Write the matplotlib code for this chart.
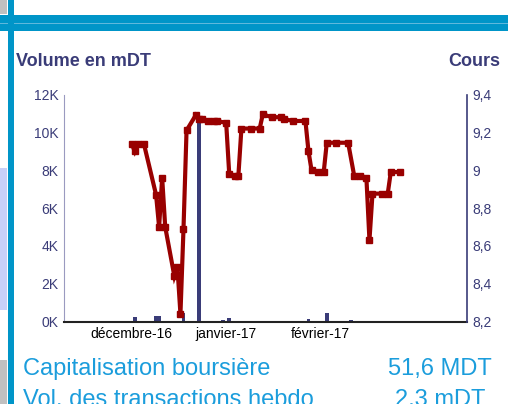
import matplotlib.pyplot as plt
from matplotlib.patches import Rectangle
from matplotlib.ticker import FuncFormatter

plt.rcParams["font.family"] = ["Liberation Sans", "DejaVu Sans"]

# jours comptés à partir du 1er décembre 2016
jours_cours = [0, 1, 2, 4, 8, 9, 10, 11, 14, 15, 16, 17, 18, 21, 22, 23, 25, 27, 28,
               31, 32, 34, 35, 36, 39, 42, 43, 46, 49, 50, 53, 57, 58, 59, 61, 63,
               64, 67, 71, 73, 75, 77, 78, 79, 82, 84, 85, 88]
cours = [9.14, 9.10, 9.14, 9.14, 8.87, 8.70, 8.96, 8.70, 8.44, 8.49, 8.24, 8.69, 9.21,
         9.29, 9.27, 9.27, 9.26, 9.26, 9.26, 9.25, 8.98, 8.97, 8.97, 9.22, 9.22, 9.22,
         9.295, 9.28, 9.28, 9.27, 9.26, 9.26, 9.10, 9.00, 8.99, 8.99, 9.145, 9.145,
         9.145, 8.97, 8.97, 8.96, 8.63, 8.876, 8.876, 8.876, 8.99, 8.99]

jours_volume = [1, 8, 9, 15, 17, 22, 25, 30, 32, 43, 45, 58, 64, 72, 78]
volume = [230, 300, 300, 50, 450, 10750, 30, 100, 180, 50, 40, 120, 450, 60, 40]

mois_pos = [0, 31, 62]
mois_labels = ["décembre-16", "janvier-17", "février-17"]

navy = "#3a3c78"
rouge = "#990000"
bleu = "#0095c8"
bleu_txt = "#1b9ddc"

fig = plt.figure(figsize=(5.08, 4.04), dpi=100)
W, H = 508, 404


def px_rect(x0, y0, x1, y1, color):
    fig.patches.append(Rectangle((x0 / W, 1 - y1 / H), (x1 - x0) / W, (y1 - y0) / H,
                                 transform=fig.transFigure, color=color, lw=0, zorder=0))


# cadre décoratif
px_rect(0, 15, W, 31, bleu)
px_rect(0, 22.5, W, 23.5, "#5fb8dc")
px_rect(8, 0, 14, H, bleu)
px_rect(0, 0, 7, 14, "#c0c0c0")
px_rect(0, 168, 7, 310, "#c8d0f8")
px_rect(0, 360, 7, H, "#c0c0c0")

ax = fig.add_axes([64 / W, 1 - 321.5 / H, (467 - 64) / W, (321.5 - 94.5) / H])
ax.bar(jours_volume, volume, width=1.2, color=navy, zorder=2)
ax.set_xlim(-22.2, 110)
ax.set_ylim(0, 12000)
ax.set_yticks(range(0, 12001, 2000))
ax.yaxis.set_major_formatter(FuncFormatter(lambda v, p: f"{v / 1000:.0f}K"))
ax.set_xticks(mois_pos)
ax.set_xticklabels(mois_labels, fontsize=10, color="black")
ax.tick_params(axis="x", length=0, pad=4)
ax.tick_params(axis="y", length=0, labelsize=10, labelcolor=navy, pad=4)
ax.spines["top"].set_visible(False)
ax.spines["right"].set_visible(False)
ax.spines["left"].set_color("#9a9ac0")
ax.spines["bottom"].set_color("#222222")
ax.spines["bottom"].set_linewidth(1.5)
ax.patch.set_alpha(0)

ax2 = ax.twinx()
ax2.plot(jours_cours, cours, color=rouge, lw=3, marker="s", markersize=5,
         solid_joinstyle="miter")
ax2.set_ylim(8.2, 9.4)
ax2.set_yticks([8.2, 8.4, 8.6, 8.8, 9.0, 9.2, 9.4])
ax2.yaxis.set_major_formatter(
    FuncFormatter(lambda v, p: f"{v:.1f}".rstrip("0").rstrip(".").replace(".", ",")))
ax2.tick_params(axis="y", length=0, labelsize=10, labelcolor=navy, pad=4)
for s in ["top", "left", "bottom"]:
    ax2.spines[s].set_visible(False)
ax2.spines["right"].set_color(navy)
ax2.spines["right"].set_linewidth(1.2)

fig.text(16 / W, 1 - 61 / H, "Volume en mDT", fontsize=13, fontweight="bold",
         color=navy, va="center", ha="left")
fig.text(500 / W, 1 - 61 / H, "Cours", fontsize=13, fontweight="bold",
         color=navy, va="center", ha="right")

fig.text(23 / W, 1 - 375 / H, "Capitalisation boursière", fontsize=17,
         color=bleu_txt, va="baseline", ha="left")
fig.text(491.5 / W, 1 - 375 / H, "51,6 MDT", fontsize=17,
         color=bleu_txt, va="baseline", ha="right")
fig.text(23 / W, 1 - 406 / H, "Vol. des transactions hebdo", fontsize=17,
         color=bleu_txt, va="baseline", ha="left")
fig.text(485 / W, 1 - 406 / H, "2,3 mDT", fontsize=17,
         color=bleu_txt, va="baseline", ha="right")

fig.savefig("out.png", dpi=100)
